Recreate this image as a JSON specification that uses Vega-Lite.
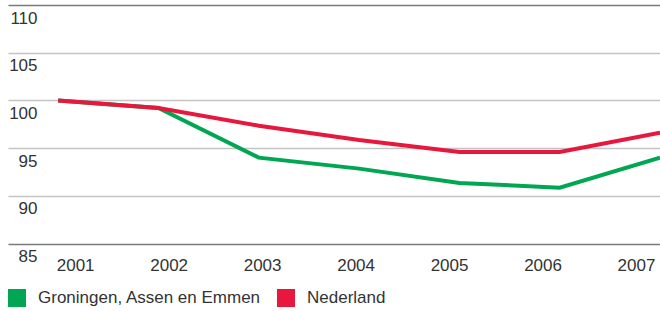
{
  "$schema": "https://vega.github.io/schema/vega-lite/v6.json",
  "width": 652,
  "height": 238.5,
  "autosize": {"type": "none"},
  "padding": {"left": 8, "top": 5, "right": 0, "bottom": 67.5},
  "background": "white",
  "config": {"view": {"stroke": null}, "font": "Liberation Sans"},
  "data": {
    "values": [
      {"year": 2001, "value": 100.0, "regio": "Groningen, Assen en Emmen"},
      {"year": 2002, "value": 99.2, "regio": "Groningen, Assen en Emmen"},
      {"year": 2003, "value": 94.0, "regio": "Groningen, Assen en Emmen"},
      {"year": 2004, "value": 92.85, "regio": "Groningen, Assen en Emmen"},
      {"year": 2005, "value": 91.35, "regio": "Groningen, Assen en Emmen"},
      {"year": 2006, "value": 90.85, "regio": "Groningen, Assen en Emmen"},
      {"year": 2007, "value": 94.0, "regio": "Groningen, Assen en Emmen"},
      {"year": 2001, "value": 100.0, "regio": "Nederland"},
      {"year": 2002, "value": 99.2, "regio": "Nederland"},
      {"year": 2003, "value": 97.35, "regio": "Nederland"},
      {"year": 2004, "value": 95.85, "regio": "Nederland"},
      {"year": 2005, "value": 94.6, "regio": "Nederland"},
      {"year": 2006, "value": 94.6, "regio": "Nederland"},
      {"year": 2007, "value": 96.6, "regio": "Nederland"}
    ]
  },
  "mark": {"type": "line", "strokeWidth": 4},
  "encoding": {
    "x": {
      "field": "year",
      "type": "quantitative",
      "scale": {"domain": [2000.5, 2007], "nice": false, "zero": false},
      "axis": {
        "values": [2001, 2002, 2003, 2004, 2005, 2006, 2007],
        "format": "d",
        "title": null,
        "domain": false,
        "ticks": false,
        "grid": false,
        "labelFlush": false,
        "labelOverlap": false,
        "labelFontSize": 17,
        "labelColor": "#333333",
        "labelBaseline": "middle",
        "labelPadding": 22,
        "labelOffset": {"expr": "17 - 6.83*(datum.value-2001)"}
      }
    },
    "y": {
      "field": "value",
      "type": "quantitative",
      "scale": {"domain": [85, 110], "nice": false, "zero": false},
      "axis": {
        "values": [85, 90, 95, 100, 105, 110],
        "title": null,
        "domain": false,
        "ticks": false,
        "grid": true,
        "gridWidth": 1.5,
        "gridColor": {"condition": {"test": "datum.value == 85 || datum.value == 110", "value": "#7a7a7a"}, "value": "#c4c4c4"},
        "labelAlign": "right",
        "labelBaseline": "middle",
        "labelPadding": -29,
        "labelOffset": 13,
        "labelFontSize": 17,
        "labelColor": "#333333"
      }
    },
    "color": {
      "field": "regio",
      "type": "nominal",
      "scale": {"domain": ["Groningen, Assen en Emmen", "Nederland"], "range": ["#00a651", "#e8173d"]},
      "legend": {
        "orient": "bottom",
        "direction": "horizontal",
        "title": null,
        "symbolType": "square",
        "symbolSize": 324,
        "symbolStrokeWidth": 0,
        "labelFontSize": 17,
        "labelLimit": 400,
        "labelColor": "#333333",
        "labelOffset": 12,
        "columnPadding": 15,
        "offset": 15,
        "encode": {"symbols": {"update": {"fill": {"scale": "color", "field": "value"}, "strokeWidth": {"value": 0}}}}
      }
    }
  }
}
